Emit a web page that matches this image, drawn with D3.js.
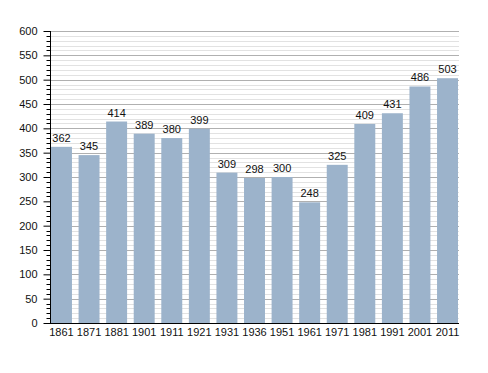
<!DOCTYPE html>
<meta charset="utf-8">
<head>
    <script src="https://d3js.org/d3.v7.min.js"></script>
    <style>
        body { margin: 0; background: white; }
        text { font-family: "Liberation Sans", Arial, sans-serif; }
    </style>
</head>
<body>
<div id="chart"></div>
<script>
    const years = ["1861", "1871", "1881", "1901", "1911", "1921", "1931", "1936", "1951", "1961", "1971", "1981", "1991", "2001", "2011"];
    const population = [362, 345, 414, 389, 380, 399, 309, 298, 300, 248, 325, 409, 431, 486, 503];
    const yTicks = [0, 50, 100, 150, 200, 250, 300, 350, 400, 450, 500, 550, 600];
    const yMinor = d3.range(0, 601, 10);

    const svg = d3.select("#chart").append("svg")
        .attr("width", 488)
        .attr("height", 373);

    const x = d3.scaleBand()
        .domain(years)
        .range([51, 458])
        .paddingInner(0.24)
        .paddingOuter(0);

    const y = d3.scaleLinear()
        .domain([0, 600])
        .range([323, 31]);

    // minor grid
    svg.append("g")
        .selectAll("line")
        .data(yMinor.filter(d => d % 50 != 0))
        .enter()
        .append("line")
        .attr("x1", 50)
        .attr("x2", 459)
        .attr("y1", d => Math.round(y(d)) + 0.5)
        .attr("y2", d => Math.round(y(d)) + 0.5)
        .attr("stroke", "#e2e2e2")
        .attr("stroke-width", 1);

    // major grid
    svg.append("g")
        .selectAll("line")
        .data(yTicks.filter(d => d > 0))
        .enter()
        .append("line")
        .attr("x1", 50)
        .attr("x2", 459)
        .attr("y1", d => Math.round(y(d)) + 0.5)
        .attr("y2", d => Math.round(y(d)) + 0.5)
        .attr("stroke", "#b0b0b0")
        .attr("stroke-width", 1);

    // bars
    svg.append("g")
        .selectAll("rect")
        .data(population)
        .enter()
        .append("rect")
        .attr("x", (d, i) => x(years[i]))
        .attr("y", d => y(d))
        .attr("width", x.bandwidth())
        .attr("height", d => y(0) - y(d))
        .attr("fill", "#9cb3cb");

    // value labels
    svg.append("g")
        .selectAll("text")
        .data(population)
        .enter()
        .append("text")
        .attr("x", (d, i) => x(years[i]) + x.bandwidth() / 2)
        .attr("y", d => y(d) - 5)
        .attr("text-anchor", "middle")
        .attr("font-size", "11px")
        .attr("fill", "#111")
        .text(d => d);

    // y axis
    const leftAxis = d3.axisLeft(y)
        .tickValues(yTicks)
        .tickSize(7)
        .tickPadding(6);

    const gy = svg.append("g")
        .attr("transform", "translate(50.5, 0)")
        .call(leftAxis);
    gy.select(".domain").attr("d", `M0,${y(600)}V${y(0)}`).attr("stroke", "#000");
    gy.selectAll("text").attr("font-size", "11px").attr("font-family", "Liberation Sans, Arial, sans-serif").attr("fill", "#111");

    gy.append("g")
        .selectAll("line")
        .data(yMinor.filter(d => d % 50 != 0))
        .enter()
        .append("line")
        .attr("x1", -4)
        .attr("x2", 0)
        .attr("y1", d => Math.round(y(d)) + 0.5)
        .attr("y2", d => Math.round(y(d)) + 0.5)
        .attr("stroke", "#000");

    // x axis
    const bottomAxis = d3.axisBottom(x)
        .tickSize(0)
        .tickPadding(5);

    const gx = svg.append("g")
        .attr("transform", `translate(0, ${y(0) + 0.5})`)
        .call(bottomAxis);
    gx.select(".domain").attr("d", "M50,0H459").attr("stroke", "#000");
    gx.selectAll("text").attr("font-size", "11px").attr("font-family", "Liberation Sans, Arial, sans-serif").attr("fill", "#111");
</script>
</body>
